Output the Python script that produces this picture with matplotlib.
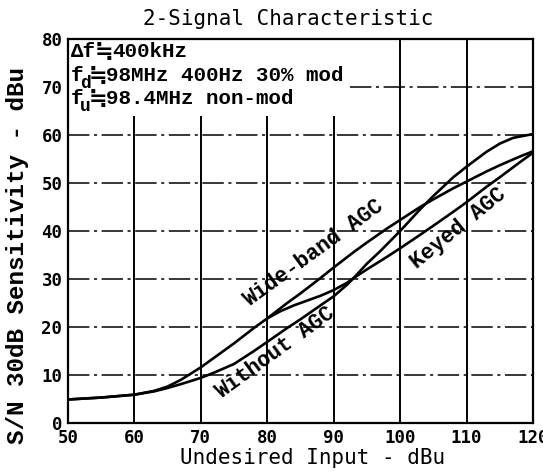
import matplotlib
matplotlib.use("Agg")
import matplotlib.pyplot as plt
from matplotlib.transforms import offset_copy

# data (x = undesired input dBu, y = sensitivity dBu)
without_x = [50, 55, 60, 63, 65, 67, 70, 72, 75, 78, 80, 83, 85, 88, 90, 92, 93,
             95, 97, 100, 103, 105, 108, 110, 113, 115, 117, 120]
without_y = [4.9, 5.3, 5.9, 6.6, 7.3, 8.1, 9.4, 10.5, 12.3, 15.0, 16.9, 19.8, 21.6,
             24.5, 26.4, 28.8, 30.2, 33.2, 35.8, 40.0, 44.5, 47.3, 51.2, 53.4,
             56.5, 58.2, 59.4, 60.2]

wide_x = [50, 55, 60, 63, 65, 67, 70, 72, 75, 78, 80, 83, 85, 88, 90, 93, 95, 98,
          100, 103, 105, 108, 110, 113, 115, 118, 120]
wide_y = [4.9, 5.3, 5.9, 6.7, 7.6, 9.0, 11.6, 13.6, 16.6, 19.8, 21.8, 25.0, 27.0,
          30.2, 32.4, 35.6, 37.6, 40.5, 42.3, 45.0, 46.6, 48.9, 50.3, 52.4, 53.7,
          55.5, 56.6]

keyed_x = [80, 82, 84, 86, 88, 90, 92, 93, 95, 98, 100, 103, 105, 108, 110, 113,
           115, 118, 120]
keyed_y = [21.8, 23.3, 24.5, 25.5, 26.5, 27.7, 29.2, 30.2, 32.0, 34.6, 36.4, 39.2,
           41.1, 44.0, 46.0, 49.2, 51.2, 54.3, 56.3]

x_ticks = [50, 60, 70, 80, 90, 100, 110, 120]
y_ticks = [0, 10, 20, 30, 40, 50, 60, 70, 80]
short_vlines = [60, 70, 80, 90]
full_vlines = [100, 110]
hlines = [10, 20, 30, 40, 50, 60]

# condition notes: (row y in axes fraction, main symbol, subscript, value text)
note_rows = [
    (0.967, "Δf", "", "400kHz"),
    (0.904, "f", "d", "98MHz 400Hz 30% mod"),
    (0.845, "f", "u", "98.4MHz non-mod"),
]

mono = ["DejaVu Sans Mono", "DejaVu Sans", "Noto Sans CJK JP"]
courier = ["Liberation Mono", "DejaVu Sans", "Noto Sans CJK JP"]
plt.rcParams["font.family"] = mono

fig = plt.figure(figsize=(5.43, 4.76), dpi=100)
ax = fig.add_axes([68 / 543, 1 - 423 / 476, 465 / 543, 384 / 476])
ax.set_xlim(50, 120)
ax.set_ylim(0, 80)

# grid drawn by hand, like the original paper chart
dashdot = (0, (14, 3, 2, 3))
ax.hlines(hlines, 50, 120, color="black", lw=1.1, linestyles=[dashdot])
ax.hlines(70, 92.5, 120, color="black", lw=1.1, linestyles=[dashdot])
ax.vlines(short_vlines, 0, 64, color="black", lw=1.4)
ax.vlines(full_vlines, 0, 80, color="black", lw=1.4)

# curves
ax.plot(without_x, without_y, color="black", lw=1.9, solid_capstyle="round")
ax.plot(wide_x, wide_y, color="black", lw=1.9, solid_capstyle="round")
ax.plot(keyed_x, keyed_y, color="black", lw=1.9, solid_capstyle="round")

lab = dict(family=courier, weight="bold", fontsize=15.5, ha="center", va="center",
           rotation_mode="anchor")
ax.text(87, 35.4, "Wide-band AGC", rotation=36, **lab)
ax.text(81.2, 14.5, "Without AGC", rotation=36, **lab)
ax.text(108.8, 40.6, "Keyed AGC", rotation=39, **lab)

# conditions text in the top-left corner
def off(dx, dy=0):
    return offset_copy(ax.transAxes, fig=fig, x=dx, y=dy, units="dots")

for ry, sym, sub, val in note_rows:
    ax.text(0.006, ry, sym, family=courier, weight="bold", fontsize=15,
            va="center", transform=off(0))
    if sub:
        ax.text(0.006, ry, sub, family=courier, weight="bold", fontsize=13,
                va="center", transform=off(9, -8))
        eq_dx, val_dx = 18, 35
    else:
        eq_dx, val_dx = 24, 41
    ax.text(0.006, ry, "≒", family=["DejaVu Sans"], fontsize=16, weight="bold",
            va="center", transform=off(eq_dx))
    ax.text(0.006, ry, val, family=courier, weight="bold", fontsize=15,
            va="center", transform=off(val_dx))

ax.set_xticks(x_ticks)
ax.set_yticks(y_ticks)
ax.tick_params(length=0, labelsize=12.5, pad=4)
for t in ax.get_xticklabels() + ax.get_yticklabels():
    t.set_fontweight("bold")
for s in ax.spines.values():
    s.set_linewidth(1.6)

fig.text(288 / 543, 1 - 19 / 476, "2-Signal Characteristic", fontsize=15,
         ha="center", va="center")
fig.text(313 / 543, 1 - 458 / 476, "Undesired Input - dBu", fontsize=15,
         ha="center", va="center")
fig.text(18 / 543, 1 - 255 / 476, "S/N 30dB Sensitivity - dBu", family=courier,
         weight="bold", fontsize=17.5, rotation=90, ha="center", va="center")

fig.savefig("out.png", dpi=100)
